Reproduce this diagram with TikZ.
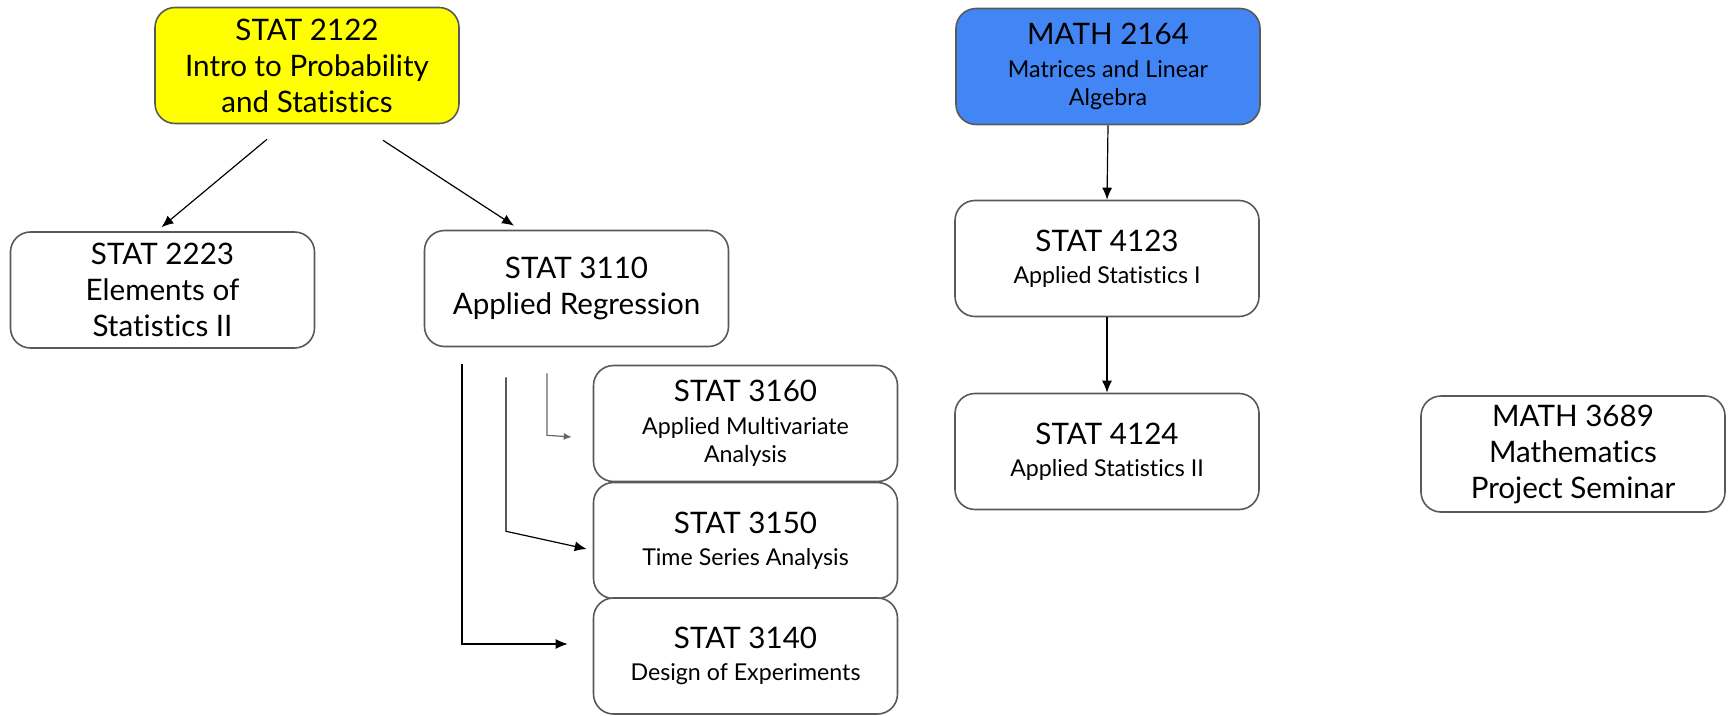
\documentclass[tikz,border=0pt]{standalone}
\usepackage{fontspec}
\setmainfont[Ligatures=NoCommon]{Lato}
\usetikzlibrary{arrows.meta,calc}
\definecolor{crsyellow}{HTML}{FFFF00}
\definecolor{crsblue}{HTML}{4285F4}
\definecolor{crsedge}{HTML}{595959}
\definecolor{crsgray}{HTML}{666666}
\newcommand{\crsbig}{\fontsize{14.8}{18}\selectfont}
\newcommand{\crssmall}{\fontsize{11.6}{14.2}\selectfont}
\tikzset{
  course/.style={draw=crsedge,line width=0.8pt,rounded corners=10pt,fill=white,
    minimum width=152pt,minimum height=58pt,align=center,inner sep=2pt,font=\crssmall},
  prereq/.style={-{Latex[length=6pt,width=5pt]},line width=0.6pt},
}

\begin{document}
\begin{tikzpicture}[x=0.5pt,y=-0.5pt]
  \useasboundingbox (0,0) rectangle (1732,716);
  % first year
  \node[course,fill=crsyellow,font=\crsbig] (s2122) at (307,65.5) {STAT 2122\\ Intro to Probability\\ and Statistics};
  \node[course,fill=crsblue] (m2164) at (1108,66.5) {\crsbig MATH 2164\\[2pt] Matrices and Linear\\ Algebra};
  % second year
  \node[course,font=\crsbig] (s2223) at (162.5,290) {STAT 2223\\ Elements of\\ Statistics II};
  \node[course,font=\crsbig] (s3110) at (576.5,288.5) {STAT 3110\\ Applied Regression};
  \node[course] (s4123) at (1107,258.5) {\crsbig STAT 4123\\[2pt] Applied Statistics I};
  % upper level
  \node[course] (s3160) at (745.5,423.5) {\crsbig STAT 3160\\[2pt] Applied Multivariate\\ Analysis};
  \node[course] (s3150) at (745.5,540.5) {\crsbig STAT 3150\\[2pt] Time Series Analysis};
  \node[course] (s3140) at (745.5,656) {\crsbig STAT 3140\\[2pt] Design of Experiments};
  \node[course] (s4124) at (1107,451.5) {\crsbig STAT 4124\\[2pt] Applied Statistics II};
  \node[course,font=\crsbig] (m3689) at (1573,454) {MATH 3689\\ Mathematics\\ Project Seminar};

  \draw[prereq] ($(s2122.south)+(-40,15)$) -- ($(s2223.north)+(-1,-4)$);
  \draw[prereq] ($(s2122.south)+(76,16)$) -- ($(s3110.north)+(-62.5,-4)$);
  \draw[prereq] (m2164.south) -- (s4123.north);
  \draw[prereq] (s4123.south) -- (s4124.north);
  \draw[prereq] ($(s3110.south)+(-114.5,17)$) |- ($(s3140.west)+(-25,-12)$);
  \draw[prereq] ($(s3110.south)+(-70.5,30)$) -- ($(s3110.south)+(-70.5,184)$) -- ($(s3150.west)+(-6,8.5)$);
  \draw[prereq,crsgray,-{Latex[length=4pt,width=3.5pt]}] ($(s3110.south)+(-29.5,26)$) -- ($(s3110.south)+(-29.5,88)$) -- ($(s3160.west)+(-21,13.5)$);
\end{tikzpicture}
\end{document}
